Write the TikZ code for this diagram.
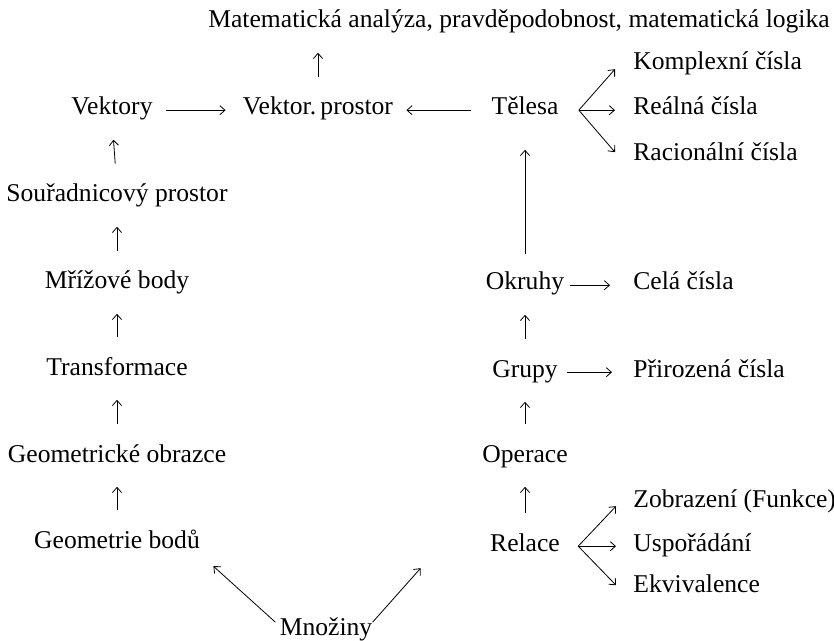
\documentclass[tikz,border=0pt]{standalone}
\usepackage{fontspec}
\setmainfont{Liberation Serif}
\usetikzlibrary{calc, arrows.meta}

\begin{document}
\begin{tikzpicture}[x=0.5pt, y=-0.5pt,
    every node/.style={inner sep=0pt, anchor=base, text height=0.7em, text depth=0.22em,
      font=\fontsize{12.8pt}{15pt}\selectfont},
    pojem/.style={anchor=base west},
    sipka/.style={-{Straight Barb[length=2.6pt, width=4.6pt]}, line width=0.4pt},
    nahoru/.style={sipka, shorten <=12pt, shorten >=10pt}]
  \useasboundingbox (0,0) rectangle (834,641);
  % horni radek
  \node (mat) at (519,28) {Matematická analýza, pravděpodobnost, matematická logika};
  \node (vek) at (112,115) {Vektory};
  \node (vp) at (318,115) {Vektor.\,prostor};
  \node (tel) at (525,115) {Tělesa};
  \node[pojem] (kompl) at (633,70) {Komplexní čísla};
  \node[pojem] (real) at (633,115) {Reálná čísla};
  \node[pojem] (rac) at (633,161) {Racionální čísla};
  % levy sloupec
  \node (sour) at (117,202) {Souřadnicový prostor};
  \node (mriz) at (117,289) {Mřížové body};
  \node (trans) at (117,375) {Transformace};
  \node (gobr) at (117,462) {Geometrické obrazce};
  \node (gbod) at (117,548) {Geometrie bodů};
  % pravy sloupec
  \node (okr) at (525,290) {Okruhy};
  \node[pojem] (cela) at (633,290) {Celá čísla};
  \node (grp) at (525,377) {Grupy};
  \node[pojem] (prir) at (633,377) {Přirozená čísla};
  \node (oper) at (525,462) {Operace};
  \node (rel) at (525,551) {Relace};
  \node[pojem] (zobr) at (633,507) {Zobrazení (Funkce)};
  \node[pojem] (usp) at (633,551) {Uspořádání};
  \node[pojem] (ekv) at (633,592) {Ekvivalence};
  \node (mnoz) at (326,635) {Množiny};

  \coordinate (telR) at ([xshift=10pt]tel.east);
  \coordinate (relR) at ([xshift=9pt]rel.east);
  \coordinate (mnozL) at ([shift={(-2pt,4pt)}]mnoz.west);
  \coordinate (mnozP) at ([shift={(0pt,4pt)}]mnoz.east);

  \foreach \a/\b in {sour/vek, mriz/sour, trans/mriz, gobr/trans, gbod/gobr,
      grp/okr, oper/grp, rel/oper}
    \draw[nahoru] (\a.north) -- (\b.south);
  \draw[nahoru] (vp.north) -- (vp.north |- mat.south);
  \draw[sipka, shorten <=6.5pt, shorten >=8.5pt] (vek.east) -- (vp.west);
  \draw[sipka, shorten <=10pt, shorten >=6.5pt] (tel.west) -- (vp.east);
  \draw[sipka, shorten <=11pt, shorten >=15pt] (okr.north) -- (tel.south);
  \draw[sipka, shorten <=2.5pt, shorten >=11.5pt] (okr.east) -- (cela.west);
  \draw[sipka, shorten <=4.5pt, shorten >=10.5pt] (grp.east) -- (prir.west);
  \draw[sipka] (telR) -- ([shift={(-9pt,-2pt)}]kompl.west);
  \draw[sipka] (telR) -- ([xshift=-9pt]real.west);
  \draw[sipka] (telR) -- ([shift={(-9pt,2pt)}]rac.west);
  \draw[sipka] (relR) -- ([shift={(-8.5pt,-2pt)}]zobr.west);
  \draw[sipka] (relR) -- ([xshift=-8.5pt]usp.west);
  \draw[sipka] (relR) -- ([shift={(-8.5pt,1pt)}]ekv.west);
  \draw[sipka] (mnozL) -- ++(-31pt,28pt);
  \draw[sipka] (mnozP) -- ++(24pt,27pt);
\end{tikzpicture}
\end{document}
